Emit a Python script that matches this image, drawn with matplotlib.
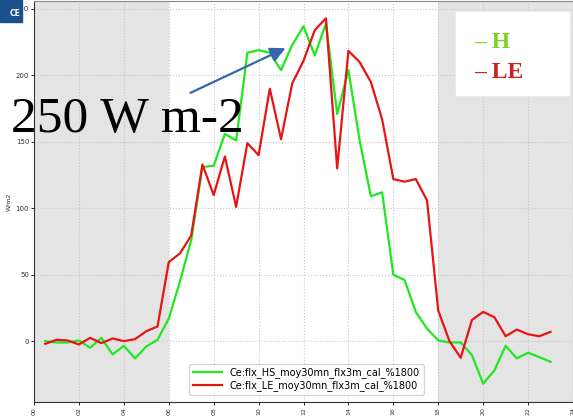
import numpy as np
import matplotlib.pyplot as plt
from matplotlib.patches import Rectangle

# half-hourly fluxes (W/m2), 00:30 -> 23:00
hours = [h / 2 for h in range(1, 47)]
flux_h = [0, -1, -1, 0.5, -5, 2.5, -10, -3.5, -13, -4, 1, 17,
          45, 76, 131, 132, 156, 151, 217, 219, 217, 204, 223, 237,
          215, 239, 171, 204, 151, 109, 112, 50, 46, 22, 9.5, 0.5,
          -1, -1, -10.5, -32, -22, -3.5, -13, -8.7, -12, -15.5]
flux_le = [-2, 1, 0.5, -2.5, 2.5, -1.5, 2, 0, 1.5, 7.5, 11, 59.5,
           66, 79.5, 133, 110, 139, 101, 149, 140, 190, 152, 194, 211,
           234, 243, 130, 218.5, 210, 195, 167, 122, 120, 122, 106, 23,
           0, -12.5, 16, 22, 18, 3.7, 8.7, 5.2, 3.7, 7]
labels = ["Ce:flx_HS_moy30mn_flx3m_cal_%1800", "Ce:flx_LE_moy30mn_flx3m_cal_%1800"]
night = [(0, 6), (18, 24)]
xticks = list(range(0, 25, 2))
yticks = [0, 50, 100, 150, 200, 250]

fig = plt.figure(figsize=(5.73, 4.19), dpi=100)
ax = fig.add_axes([34 / 573, 17 / 419, 539 / 573, 401 / 419])

for start, end in night:
    ax.axvspan(start, end, color="#e4e4e4", zorder=0, lw=0)

ax.plot(hours, flux_h, color="#1ee81e", lw=1.6, label=labels[0], zorder=3)
ax.plot(hours, flux_le, color="#e81414", lw=1.6, label=labels[1], zorder=3)

ax.set_xlim(0, 24)
ax.set_ylim(-45.8, 256)
ax.set_xticks(xticks)
ax.set_xticklabels([f"{t:02d}" for t in xticks], rotation=90, fontsize=4.5, color="#333333")
ax.set_yticks(yticks)
ax.set_yticklabels([str(t) for t in yticks], fontsize=5, color="#333333")
ax.tick_params(length=2, width=0.6, pad=1.5)
ax.grid(True, color="#c8c8c8", linestyle=":", linewidth=0.8, zorder=1)
for side in ["top", "right"]:
    ax.spines[side].set_color("#888888")
for side in ["left", "bottom"]:
    ax.spines[side].set_color("#333333")
ax.set_ylabel("W/m2", fontsize=4.5, color="#333333", labelpad=3)

leg = ax.legend(loc="lower center", bbox_to_anchor=(0.505, 0.005), fontsize=7,
                handlelength=3, frameon=True, fancybox=True, borderpad=0.4,
                labelspacing=0.2)
leg.get_frame().set_edgecolor("#cccccc")

# logo block in the corner
fig.patches.append(Rectangle((0, 397 / 419), 22 / 573, 22 / 419, transform=fig.transFigure,
                             color="#1b4f8c", zorder=10))
fig.text(21 / 573, 405 / 419, "CE", color="white", fontsize=5.5, fontweight="bold",
         ha="right", va="center", zorder=11)

# big annotation with arrow
fig.text(11 / 573, 1 - 132 / 419, "250 W m-2", family="Liberation Serif",
         fontsize=37, color="black", va="baseline", zorder=12)
ax.annotate("", xy=(288 / 573, 1 - 47 / 419), xytext=(188 / 573, 1 - 94 / 419),
            xycoords="figure fraction", textcoords="figure fraction",
            arrowprops=dict(arrowstyle="-|>,head_length=0.9,head_width=0.45",
                            color="#3566ad", lw=1.6), zorder=12)

# H / LE key box
fig.patches.append(Rectangle((456 / 573, 1 - 95 / 419), 113 / 573, 83 / 419,
                             transform=fig.transFigure, color="white", zorder=10))
fig.text(474 / 573, 1 - 42 / 419, "\u2013 H", family="Liberation Serif", fontweight="bold",
         fontsize=17, color="#7ed321", va="center", zorder=11)
fig.text(474 / 573, 1 - 72 / 419, "\u2013 LE", family="Liberation Serif", fontweight="bold",
         fontsize=17, color="#cc2020", va="center", zorder=11)

fig.savefig("out.png", dpi=100)
